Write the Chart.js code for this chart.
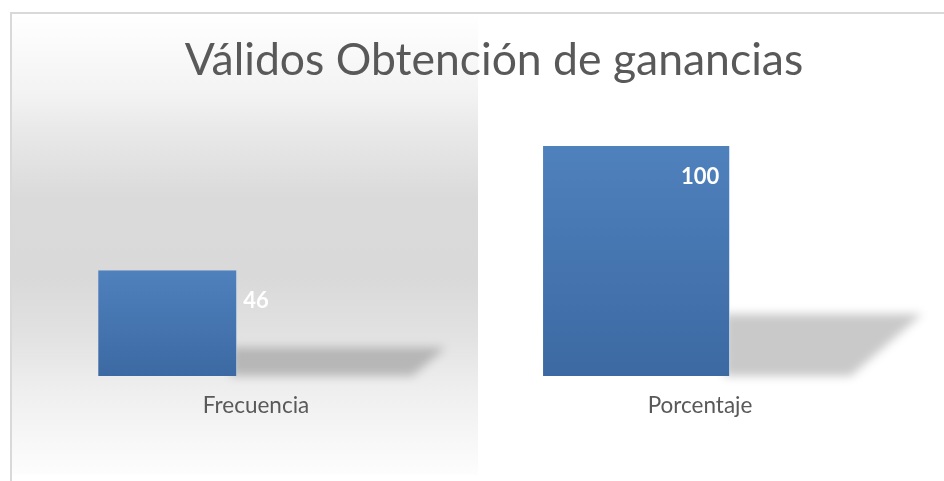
<!DOCTYPE html>
<html>
<head>
<meta charset="utf-8">
<script src="https://cdn.jsdelivr.net/npm/chart.js@4"></script>
<style>
  html, body { margin: 0; padding: 0; background: #fff; }
  #wrap { width: 944px; height: 481px; }
</style>
</head>
<body>
<div id="wrap"><canvas id="chart"></canvas></div>
<script>
// data
const CATEGORIES = ['Frecuencia', 'Porcentaje'];
const VALUES = [46, 100];
const TITLE = 'Válidos Obtención de ganancias';

// style: bars sit left of the category centre, widths differ as in the original
const BAR_SHIFT = [-0.199, -0.143];
const BAR_WIDTH = [139, 187];
const TEXT = '#595959';

// background panel + frame
const backdrop = {
    id: 'backdrop',
    beforeDraw(chart) {
        const c = chart.ctx;
        c.save();
        c.fillStyle = '#fff';
        c.fillRect(0, 0, chart.width, chart.height);
        const g = c.createLinearGradient(0, 14, 0, 475);
        g.addColorStop(0, '#ffffff');
        g.addColorStop(0.17, '#f3f3f3');
        g.addColorStop(0.25, '#e9e9e9');
        g.addColorStop(0.40, '#dadada');
        g.addColorStop(0.57, '#d9d9d9');
        g.addColorStop(0.70, '#e2e2e2');
        g.addColorStop(0.81, '#eeeeee');
        g.addColorStop(1, '#fdfdfd');
        c.fillStyle = g;
        c.fillRect(12, 14, 466, 461);
        c.fillStyle = '#d9d9d9';
        c.fillRect(10, 12, chart.width - 10, 2);
        c.fillRect(10, 12, 2, chart.height - 12);
        c.restore();
    }
};

// soft floor shadow to the right of each bar
const floorShadow = {
    id: 'floorShadow',
    beforeDatasetsDraw(chart) {
        const c = chart.ctx;
        c.save();
        c.filter = 'blur(5px)';
        c.fillStyle = 'rgba(0,0,0,0.21)';
        chart.data.datasets.forEach((ds, i) => {
            chart.getDatasetMeta(i).data.forEach(el => {
                const barH = el.base - el.y;
                const h = barH * 0.27;
                const len = 222 - barH * 0.13;
                const right = el.x + el.width / 2;
                c.beginPath();
                c.moveTo(right - 6, el.base - h);
                c.lineTo(right + len, el.base - h);
                c.lineTo(right + len - h * 1.15, el.base);
                c.lineTo(right - 6, el.base);
                c.closePath();
                c.fill();
            });
        });
        c.restore();
    }
};

// white value labels, centred on the category
const valueLabels = {
    id: 'valueLabels',
    afterDatasetsDraw(chart) {
        const c = chart.ctx;
        const xs = chart.scales.x;
        c.save();
        c.fillStyle = '#ffffff';
        c.font = 'bold 22px Lato';
        c.textAlign = 'center';
        c.textBaseline = 'middle';
        chart.data.datasets.forEach((ds, i) => {
            chart.getDatasetMeta(i).data.forEach(el => {
                c.fillText(String(VALUES[i]), xs.getPixelForValue(i), el.y + 31);
            });
        });
        c.restore();
    }
};

function barFill(ctx) {
    const ys = ctx.chart.scales.y;
    if (!ys || !ctx.raw) return '#4a7ab5';
    const top = ys.getPixelForValue(ctx.raw.y);
    const base = ys.getPixelForValue(0);
    if (!isFinite(top) || !isFinite(base) || top === base) return '#4a7ab5';
    const g = ctx.chart.ctx.createLinearGradient(0, top, 0, base);
    g.addColorStop(0, '#4f81bd');
    g.addColorStop(1, '#3c69a2');
    return g;
}

new Chart(document.getElementById('chart').getContext('2d'), {
    type: 'bar',
    data: {
        datasets: VALUES.map((v, i) => ({
            label: CATEGORIES[i],
            data: [{ x: i + BAR_SHIFT[i], y: v }],
            grouped: false,
            maxBarThickness: BAR_WIDTH[i],
            backgroundColor: barFill,
            borderColor: 'rgba(180,205,235,0.6)',
            borderWidth: { right: 1, left: 0, top: 0, bottom: 0 },
            borderSkipped: false
        }))
    },
    options: {
        responsive: true,
        maintainAspectRatio: false,
        animation: false,
        layout: { padding: { left: 50, right: 6, top: 0, bottom: 46 } },
        plugins: {
            legend: { display: false },
            tooltip: { enabled: false },
            title: {
                display: true,
                text: TITLE,
                color: TEXT,
                font: { family: 'Lato', size: 44.5, weight: 'normal' },
                padding: { top: 34, bottom: 38 }
            }
        },
        scales: {
            x: {
                type: 'linear',
                offset: false,
                min: -0.464,
                max: 1.536,
                afterBuildTicks: s => { s.ticks = CATEGORIES.map((_, i) => ({ value: i })); },
                grid: { display: false, drawTicks: false },
                border: { display: false },
                ticks: {
                    color: TEXT,
                    font: { family: 'Lato', size: 22.5 },
                    padding: 16,
                    autoSkip: false,
                    maxRotation: 0,
                    callback: v => CATEGORIES[v]
                }
            },
            y: { display: false, min: 0, max: 109 }
        }
    },
    plugins: [backdrop, floorShadow, valueLabels]
});
</script>
</body>
</html>
